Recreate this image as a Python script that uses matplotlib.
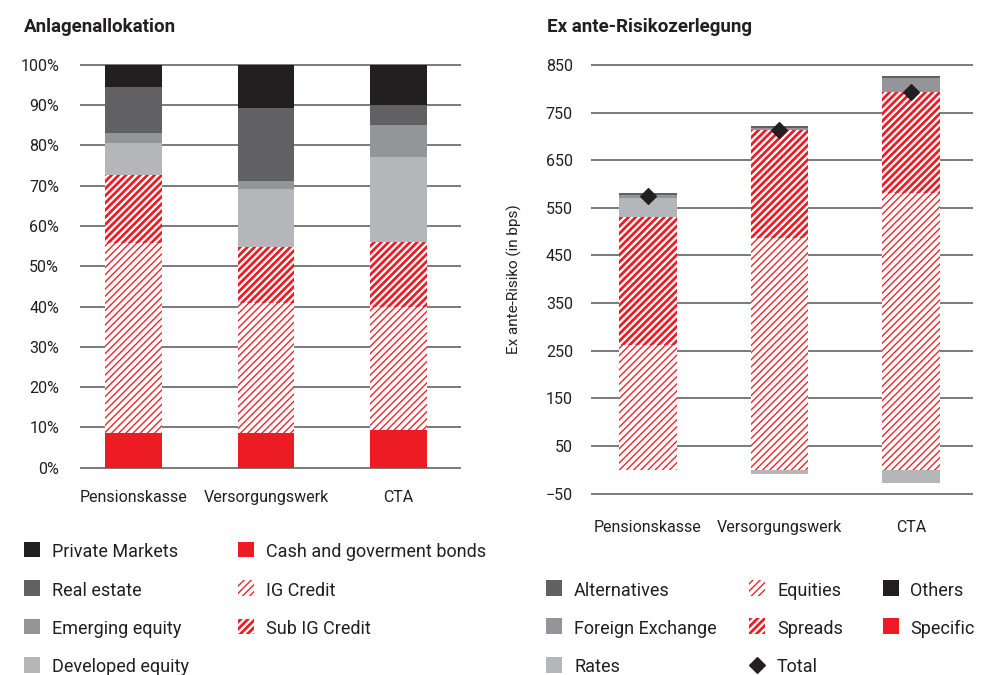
import numpy as np
import matplotlib.pyplot as plt
from matplotlib.patches import Rectangle
from matplotlib.lines import Line2D

plt.rcParams['font.family'] = ['Roboto', 'DejaVu Sans']

# Anlagenallokation (share in %)
funds = ['Pensionskasse', 'Versorgungswerk', 'CTA']
cash = [8.7, 8.7, 9.4]
ig_credit = [47.0, 32.1, 30.6]
sub_ig = [16.9, 14.0, 16.0]
dev_equity = [8.0, 14.4, 21.2]
em_equity = [2.5, 2.0, 7.9]
real_estate = [11.5, 18.1, 5.0]
private_markets = [5.4, 10.7, 9.9]

# Ex ante-Risikozerlegung (bps)
equities = [262, 486, 582]
spreads = [269, 227, 212]
rates = [39, -10, -27]
fx = [6, 5, 28]
alternatives = [5, 4, 5]
others = [0, 0, 0]
specific = [0, 0, 0]
total = [575, 713, 794]

RED = '#ed1c24'
BLACK = '#231f20'
DARK = '#616163'
MID = '#939598'
LIGHT = '#b5b6b9'
TXT = '#231f20'

# hatch cell = dpi pixels; at 86 dpi '////' gives ~7px stripe spacing
DPI = 86
K = 100 / DPI  # keep sizes as if drawn at 100 dpi
THIN = ('////', 1.1)
THICK = ('////', 2.3)

W, H = 984, 675


def fx_(x):
    return x / W


def fy_(y):
    return 1 - y / H


def draw_bar(ax, x, h, bottom, color, hatch, width):
    if hatch is None:
        ax.bar(x, h, width, bottom=bottom, color=color, linewidth=0)
    else:
        bars = ax.bar(x, h, width, bottom=bottom, color='white', edgecolor=RED,
                      linewidth=0, hatch=hatch[0])
        for b in bars:
            if hasattr(b, 'set_hatch_linewidth'):
                b.set_hatch_linewidth(hatch[1])


fig = plt.figure(figsize=(W / DPI, H / DPI), dpi=DPI)

# ---- left: Anlagenallokation
ax1 = fig.add_axes([fx_(80), fy_(471.7), 381 / W, 410.8 / H])
left_series = [
    (cash, RED, None),
    (ig_credit, None, THIN),
    (sub_ig, None, THICK),
    (dev_equity, LIGHT, None),
    (em_equity, MID, None),
    (real_estate, DARK, None),
    (private_markets, BLACK, None),
]
x = np.arange(len(funds))
base = np.zeros(len(funds))
for vals, col, hatch in left_series:
    v = np.array(vals, float)
    draw_bar(ax1, x, v, base, col, hatch, 0.43)
    base += v
ax1.set_ylim(-1, 101)
ax1.set_xlim(-0.404, 2.472)
ax1.set_yticks(range(0, 101, 10))
ax1.set_yticklabels([f'{v}%' for v in range(0, 101, 10)])
ax1.set_xticks(x)
ax1.set_xticklabels(funds)

# ---- right: Ex ante-Risikozerlegung
ax2 = fig.add_axes([fx_(591), fy_(495.9), 381.7 / W, 433.3 / H])
right_series = [
    (equities, None, THIN),
    (spreads, None, THICK),
    (rates, LIGHT, None),
    (fx, MID, None),
    (alternatives, DARK, None),
    (others, BLACK, None),
    (specific, RED, None),
]
pos = np.zeros(len(funds))
neg = np.zeros(len(funds))
for vals, col, hatch in right_series:
    v = np.array(vals, float)
    bottom = np.where(v >= 0, pos, neg)
    draw_bar(ax2, x, v, bottom, col, hatch, 0.437)
    pos += np.clip(v, 0, None)
    neg += np.clip(v, None, 0)
ax2.plot(x, total, linestyle='none', marker='D', markersize=8.5 * K, color=BLACK, zorder=5)
ax2.set_ylim(-55, 855)
ax2.set_xlim(-0.433, 2.469)
ax2.set_yticks(range(-50, 851, 100))
ax2.set_xticks(x)
ax2.set_xticklabels(funds)
ax2.set_ylabel('Ex ante-Risiko (in bps)', fontsize=11 * K, color=TXT)
ax2.yaxis.set_label_coords(-0.181, 0.5)

for ax, pad_y, pad_x in [(ax1, 15, 13), (ax2, 13, 17)]:
    for s in ax.spines.values():
        s.set_visible(False)
    ax.set_axisbelow(True)
    ax.yaxis.grid(True, color='#6f6f6f', linewidth=1.3 * K)
    ax.tick_params(axis='both', length=0, labelsize=11.5 * K, colors=TXT)
    ax.tick_params(axis='y', pad=pad_y * K)
    ax.tick_params(axis='x', pad=pad_x * K)

fig.text(fx_(24), fy_(32), 'Anlagenallokation', fontsize=13.5 * K, fontweight='bold',
         color=TXT, va='baseline')
fig.text(fx_(547), fy_(32), 'Ex ante-Risikozerlegung', fontsize=13.5 * K, fontweight='bold',
         color=TXT, va='baseline')


# ---- legends (drawn by hand to match positions)
def legend_item(xm, xt, baseline, label, color=None, hatch=None, diamond=False):
    if diamond:
        fig.add_artist(Line2D([fx_(xm + 8)], [fy_(baseline - 8)], marker='D', markersize=8 * K,
                              color=BLACK, linestyle='none', transform=fig.transFigure))
    else:
        r = Rectangle((fx_(xm), fy_(baseline)), 16 / W, 15.5 / H, transform=fig.transFigure,
                      facecolor=color if hatch is None else 'white',
                      edgecolor=RED if hatch else 'none', linewidth=0,
                      hatch=hatch[0] if hatch else None)
        if hatch and hasattr(r, 'set_hatch_linewidth'):
            r.set_hatch_linewidth(hatch[1])
        fig.add_artist(r)
    fig.text(fx_(xt), fy_(baseline), label, fontsize=13 * K, color=TXT, va='baseline')


rows_l = [557, 595.5, 634, 672.5]
legend_item(24, 51.5, rows_l[0], 'Private Markets', BLACK)
legend_item(24, 51.5, rows_l[1], 'Real estate', DARK)
legend_item(24, 51.5, rows_l[2], 'Emerging equity', MID)
legend_item(24, 51.5, rows_l[3], 'Developed equity', LIGHT)
legend_item(238, 265.5, rows_l[0], 'Cash and goverment bonds', RED)
legend_item(238, 265.5, rows_l[1], 'IG Credit', hatch=THIN)
legend_item(238, 265.5, rows_l[2], 'Sub IG Credit', hatch=THICK)

rows_r = [595.5, 633.5, 672.5]
legend_item(546, 574, rows_r[0], 'Alternatives', DARK)
legend_item(546, 574, rows_r[1], 'Foreign Exchange', MID)
legend_item(546, 574, rows_r[2], 'Rates', LIGHT)
legend_item(749, 777, rows_r[0], 'Equities', hatch=THIN)
legend_item(749, 777, rows_r[1], 'Spreads', hatch=THICK)
legend_item(749, 777, rows_r[2], 'Total', diamond=True)
legend_item(883, 910, rows_r[0], 'Others', BLACK)
legend_item(883, 910, rows_r[1], 'Specific', RED)

fig.savefig('out.png', dpi=DPI)
